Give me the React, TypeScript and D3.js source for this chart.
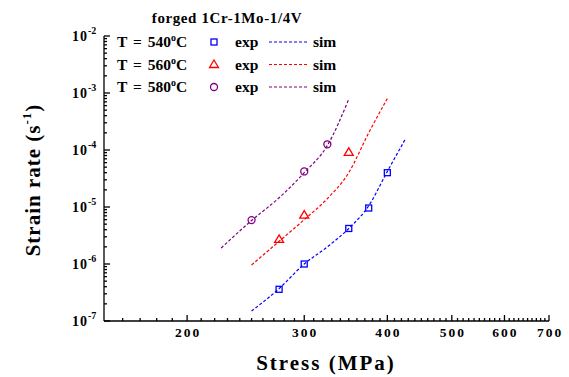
import React, { useRef, useEffect } from 'react';
import * as d3 from 'd3';

// experimental points (stress MPa, strain rate 1/s)
const stressExp540 = [275, 300, 350, 375, 400];
const rateExp540 = [3.6e-7, 1.0e-6, 4.2e-6, 9.6e-6, 4.0e-5];
const stressExp560 = [275, 300, 350];
const rateExp560 = [2.7e-6, 7.2e-6, 9.1e-5];
const stressExp580 = [250, 300, 325];
const rateExp580 = [5.9e-6, 4.2e-5, 1.26e-4];

// simulated curves
const stressSim540 = [250, 275, 300, 325, 350, 375, 400, 425];
const rateSim540 = [1.5e-7, 3.7e-7, 1.0e-6, 2.0e-6, 4.2e-6, 1.05e-5, 4.2e-5, 1.5e-4];
const stressSim560 = [250, 275, 300, 325, 350, 375, 400];
const rateSim560 = [9.6e-7, 2.5e-6, 6.0e-6, 1.4e-5, 4.0e-5, 2.0e-4, 8.0e-4];
const stressSim580 = [225, 250, 275, 300, 325, 350];
const rateSim580 = [1.9e-6, 5.8e-6, 1.45e-5, 4.0e-5, 1.2e-4, 7.8e-4];

const temps = ['540', '560', '580'];
const colors = ['#0000ff', '#ff0000', '#800080'];
const markers = ['square', 'triangle', 'circle'];
const xTickValues = [200, 300, 400, 500, 600, 700];
const yTickExponents = [-2, -3, -4, -5, -6, -7];

function App() {
  const svgRef = useRef<SVGSVGElement>(null);

  useEffect(() => {
    const width = 569;
    const height = 377;
    const left = 104, right = 549, top = 36, bottom = 321;
    const font = '"Liberation Serif", "Times New Roman", serif';

    const x = d3.scaleLog().domain([150, 700]).range([left, right]);
    const y = d3.scaleLog().domain([1e-7, 1e-2]).range([bottom, top]);

    const svg = d3.select(svgRef.current);
    svg.selectAll('*').remove();
    svg.attr('width', width).attr('height', height)
      .attr('viewBox', [0, 0, width, height])
      .style('font-family', font);

    svg.append('rect').attr('width', width).attr('height', height).attr('fill', '#fff');

    const zip = (xs: number[], ys: number[]) => xs.map((v, i) => [v, ys[i]] as [number, number]);
    const exps = [zip(stressExp540, rateExp540), zip(stressExp560, rateExp560), zip(stressExp580, rateExp580)];
    const sims = [zip(stressSim540, rateSim540), zip(stressSim560, rateSim560), zip(stressSim580, rateSim580)];

    const line = d3.line<[number, number]>()
      .x(d => x(d[0]))
      .y(d => y(d[1]))
      .curve(d3.curveMonotoneX);

    // axes
    const axes = svg.append('g').attr('stroke', '#000').attr('stroke-width', 1.3);
    axes.append('line').attr('x1', left).attr('x2', right).attr('y1', bottom).attr('y2', bottom);
    axes.append('line').attr('x1', left).attr('x2', left).attr('y1', top).attr('y2', bottom);

    const xMinor = d3.range(160, 700, 10).filter(v => v % 100 !== 0);
    xMinor.forEach(v => axes.append('line').attr('x1', x(v)).attr('x2', x(v)).attr('y1', bottom).attr('y2', bottom - 3));
    xTickValues.forEach(v => axes.append('line').attr('x1', x(v)).attr('x2', x(v)).attr('y1', bottom).attr('y2', bottom - 6));

    yTickExponents.forEach(e => {
      const v = Math.pow(10, e);
      axes.append('line').attr('x1', left).attr('x2', left + 6).attr('y1', y(v)).attr('y2', y(v));
      if (e < -2) {
        d3.range(2, 10).forEach(k => {
          const m = k * v;
          axes.append('line').attr('x1', left).attr('x2', left + 3).attr('y1', y(m)).attr('y2', y(m));
        });
      }
    });

    // tick labels
    svg.append('g').selectAll('text').data(xTickValues).join('text')
      .attr('x', d => x(d) + 1)
      .attr('y', 337)
      .attr('text-anchor', 'middle')
      .attr('font-size', 13.5)
      .attr('font-weight', 'bold')
      .attr('letter-spacing', 2)
      .text(d => d);

    const yl = svg.append('g').selectAll('text').data(yTickExponents).join('text')
      .attr('x', 72)
      .attr('y', d => y(Math.pow(10, d)) + 5)
      .attr('font-size', 14)
      .attr('font-weight', 'bold');
    yl.append('tspan').attr('letter-spacing', 1).text('10');
    yl.append('tspan').attr('dy', -7).attr('font-size', 10).text(d => String(d));

    // axis titles
    svg.append('text')
      .attr('x', 326).attr('y', 370)
      .attr('text-anchor', 'middle')
      .attr('font-size', 21).attr('font-weight', 'bold')
      .attr('letter-spacing', 2)
      .text('Stress (MPa)');

    const yt = svg.append('text')
      .attr('transform', 'translate(40,180) rotate(-90)')
      .attr('text-anchor', 'middle')
      .attr('font-size', 21).attr('font-weight', 'bold')
      .attr('letter-spacing', 1);
    yt.append('tspan').text('Strain rate (s');
    yt.append('tspan').attr('dy', -9).attr('font-size', 13).text('-1');
    yt.append('tspan').attr('dy', 9).text(')');

    // sim lines
    sims.forEach((s, i) => {
      svg.append('path')
        .attr('d', line(s))
        .attr('fill', 'none')
        .attr('stroke', colors[i])
        .attr('stroke-width', 1.2)
        .attr('stroke-dasharray', '3,2');
    });

    const drawMarker = (g: any, kind: string, cx: number, cy: number, color: string) => {
      if (kind === 'square') {
        g.append('rect').attr('x', cx - 3).attr('y', cy - 3).attr('width', 6).attr('height', 6)
          .attr('fill', 'none').attr('stroke', color).attr('stroke-width', 1.3);
      } else if (kind === 'triangle') {
        g.append('path').attr('d', `M${cx},${cy - 4.5}L${cx + 4.5},${cy + 3}L${cx - 4.5},${cy + 3}Z`)
          .attr('fill', 'none').attr('stroke', color).attr('stroke-width', 1.3);
      } else {
        g.append('circle').attr('cx', cx).attr('cy', cy).attr('r', 3.5)
          .attr('fill', 'none').attr('stroke', color).attr('stroke-width', 1.3);
      }
    };

    const pts = svg.append('g');
    exps.forEach((s, i) => {
      s.forEach(d => drawMarker(pts, markers[i], x(d[0]), y(d[1]), colors[i]));
    });

    // legend
    const lg = svg.append('g').attr('font-weight', 'bold');
    lg.append('text').attr('x', 227).attr('y', 23).attr('text-anchor', 'middle')
      .attr('font-size', 15).attr('letter-spacing', 0.6).text('forged 1Cr-1Mo-1/4V');
    const rowY = [42, 64.5, 87];
    temps.forEach((t, i) => {
      const ry = rowY[i];
      const tt = lg.append('text').attr('x', 117).attr('y', ry + 5).attr('font-size', 15.5);
      tt.append('tspan').attr('word-spacing', 2).text(`T = ${t}`);
      tt.append('tspan').attr('dy', -6).attr('font-size', 10).text('o');
      tt.append('tspan').attr('dy', 6).text('C');
      drawMarker(lg, markers[i], 214, ry, colors[i]);
      lg.append('text').attr('x', 235).attr('y', ry + 5).attr('font-size', 15.5).text('exp');
      lg.append('line').attr('x1', 269).attr('x2', 307).attr('y1', ry).attr('y2', ry)
        .attr('stroke', colors[i]).attr('stroke-width', 1.2).attr('stroke-dasharray', '3,2');
      lg.append('text').attr('x', 313).attr('y', ry + 5).attr('font-size', 15.5).text('sim');
    });
  }, []);

  return (
    <div style={{ position: 'absolute', left: 0, top: 0 }}>
      <svg ref={svgRef}></svg>
    </div>
  );
}

export default App;
